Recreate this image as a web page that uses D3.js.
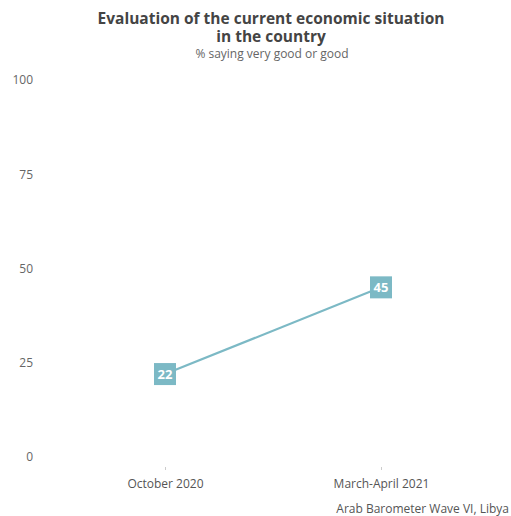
<!DOCTYPE html>
<html>
<head>
<meta charset="utf-8">
<script src="https://cdn.jsdelivr.net/npm/d3@7"></script>
<style>
  html, body { margin: 0; padding: 0; background: #ffffff; }
  svg { display: block; font-family: "Open Sans", "Noto Sans", sans-serif; }
</style>
</head>
<body>
<svg id="chart" width="511" height="516"></svg>
<script>
const categories = ["October 2020", "March-April 2021"];
const values = [22, 45];
const yTicks = [0, 25, 50, 75, 100];
const titleLines = ["Evaluation of the current economic situation", "in the country"];
const subtitle = "% saying very good or good";
const source = "Arab Barometer Wave VI, Libya";

const svg = d3.select("#chart");
const color = "#7cb9c5";

const x = d3.scalePoint().domain(categories).range([165, 381]);
const y = d3.scaleLinear().domain([0, 100]).range([457, 80]);

// Title
const title = svg.append("text").attr("x", 271).attr("y", 24).attr("text-anchor", "middle")
  .attr("font-size", 15.5).attr("font-weight", 700).attr("fill", "#444");
title.selectAll("tspan").data(titleLines).join("tspan")
  .attr("x", 271).attr("dy", (d, i) => i === 0 ? 0 : 17.5).text(d => d);
svg.append("text").attr("x", 272).attr("y", 58).attr("text-anchor", "middle")
  .attr("font-size", 12).attr("fill", "#666")
  .text(subtitle);

// Y axis
const yAxis = d3.axisLeft(y).tickValues(yTicks).tickSize(0).tickPadding(0);
const gy = svg.append("g").attr("transform", "translate(33,0)").call(yAxis);
gy.select(".domain").remove();
gy.selectAll("text").attr("font-size", 12).attr("fill", "#666").attr("font-family", "Open Sans, sans-serif");

// X axis
const xAxis = d3.axisBottom(x).tickSize(3).tickPadding(9);
const gx = svg.append("g").attr("transform", "translate(0,467)").call(xAxis);
gx.select(".domain").remove();
gx.selectAll("line").attr("stroke", "#ccc");
gx.selectAll("text").attr("font-size", 12).attr("fill", "#555").attr("font-family", "Open Sans, sans-serif");

// Line
const line = d3.line().x((d, i) => x(categories[i])).y(d => y(d));
svg.append("path").datum(values).attr("d", line)
  .attr("fill", "none").attr("stroke", color).attr("stroke-width", 2.2);

// Markers
const pts = svg.append("g").selectAll("g").data(values).join("g")
  .attr("transform", (d, i) => `translate(${x(categories[i])},${y(d)})`);
pts.append("rect").attr("x", -11).attr("y", -11).attr("width", 22).attr("height", 22)
  .attr("fill", color);
pts.append("text").attr("text-anchor", "middle").attr("dy", "0.36em")
  .attr("font-size", 13).attr("font-weight", 700).attr("fill", "#fff")
  .text(d => d);

// Source
svg.append("text").attr("x", 509).attr("y", 513).attr("text-anchor", "end")
  .attr("font-size", 12).attr("fill", "#555").text(source);
</script>
</body>
</html>
